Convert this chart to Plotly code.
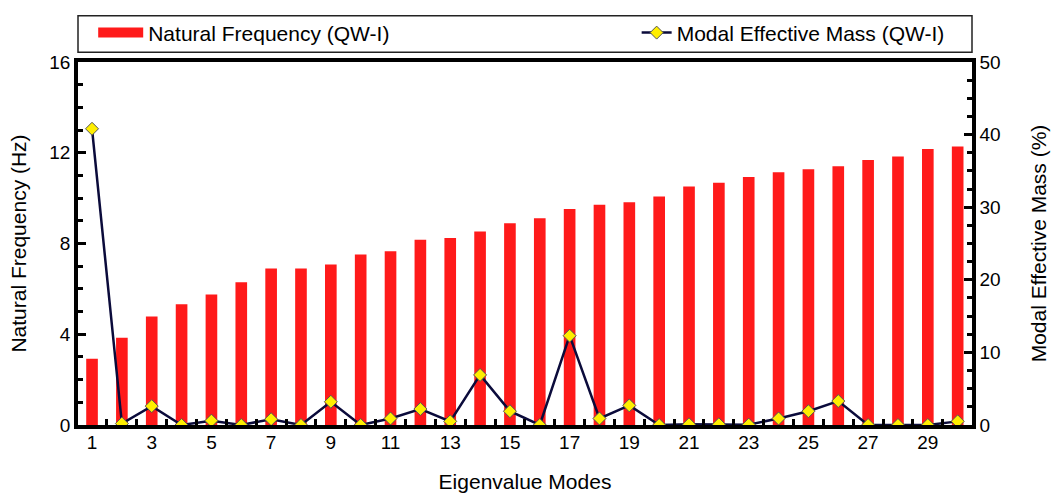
import plotly.graph_objects as go

modes = list(range(1, 31))
natural_freq = [2.92, 3.85, 4.78, 5.32, 5.75, 6.29, 6.90, 6.90, 7.07, 7.52,
                7.66, 8.17, 8.24, 8.53, 8.89, 9.11, 9.52, 9.71, 9.82, 10.07,
                10.51, 10.68, 10.93, 11.14, 11.27, 11.40, 11.68, 11.83, 12.16, 12.28]
modal_mass = [40.8, 0.2, 2.6, 0.0, 0.6, 0.0, 0.8, 0.0, 3.2, 0.0,
              0.9, 2.2, 0.5, 6.9, 1.9, 0.0, 12.3, 0.9, 2.7, 0.0,
              0.1, 0.1, 0.05, 0.9, 1.9, 3.3, 0.0, 0.0, 0.0, 0.5]
x_tick_vals = [1, 3, 5, 7, 9, 11, 13, 15, 17, 19, 21, 23, 25, 27, 29]
x_tick_text = [str(v) for v in x_tick_vals]

FONT = "Liberation Sans, Arial, sans-serif"

fig = go.Figure()
fig.add_trace(go.Bar(
    x=modes, y=natural_freq, name="Natural Frequency (QW-I)",
    marker=dict(color="#ff1a1a", line=dict(width=0)), width=0.39,
    showlegend=False, yaxis="y"))
# legend-only entry for the bars (wide swatch)
fig.add_trace(go.Scatter(
    x=[None], y=[None], mode="lines", name="Natural Frequency (QW-I)",
    line=dict(color="#ff1a1a", width=14), legend="legend", yaxis="y"))
fig.add_trace(go.Scatter(
    x=modes, y=modal_mass, name="Modal Effective Mass (QW-I)", mode="lines+markers",
    line=dict(color="#0b0b3b", width=2.5),
    marker=dict(symbol="diamond", size=10, color="#ffee00",
                line=dict(color="#555555", width=1)),
    yaxis="y2", legend="legend2"))

axis_line = dict(showline=True, linecolor="black", linewidth=3.5)

fig.update_layout(
    width=1053, height=493,
    margin=dict(l=78, r=81, t=57, b=68),
    plot_bgcolor="white", paper_bgcolor="white",
    font=dict(family=FONT, size=19, color="black"),
    bargap=0.6,
    xaxis=dict(
        range=[0.53, 30.48], tickmode="array", tickvals=x_tick_vals, ticktext=x_tick_text,
        ticks="", showgrid=False, zeroline=False, mirror=True, ticklabelstandoff=-3,
        minor=dict(tickmode="linear", tick0=0.5, dtick=1, ticks="inside",
                   ticklen=6, tickwidth=2.5, tickcolor="black", showgrid=False),
        title=dict(text="Eigenvalue Modes", font=dict(size=21), standoff=27),
        automargin=False, **axis_line),
    yaxis=dict(
        range=[0, 16], tickmode="linear", tick0=0, dtick=4,
        ticks="inside", ticklen=8, tickwidth=2.5, tickcolor="black",
        minor=dict(tickmode="linear", tick0=0, dtick=1, ticks="inside",
                   ticklen=5, tickwidth=2.5, tickcolor="black", showgrid=False),
        showgrid=False, zeroline=False,
        title=dict(text="Natural Frequency (Hz)", font=dict(size=21), standoff=18),
        automargin=False, **axis_line),
    yaxis2=dict(
        range=[0, 50], tickmode="linear", tick0=0, dtick=10, overlaying="y", side="right",
        ticks="inside", ticklen=8, tickwidth=2.5, tickcolor="black",
        minor=dict(tickmode="linear", tick0=0, dtick=2.5, ticks="inside",
                   ticklen=5, tickwidth=2.5, tickcolor="black", showgrid=False),
        showgrid=False, zeroline=False,
        title=dict(text="Modal Effective Mass (%)", font=dict(size=21), standoff=33),
        automargin=False, **axis_line),
    legend=dict(x=0.017, y=1.08, xanchor="left", yanchor="middle",
                bgcolor="rgba(0,0,0,0)", borderwidth=0, itemwidth=45,
                font=dict(size=21, family=FONT)),
    legend2=dict(x=0.975, y=1.08, xanchor="right", yanchor="middle",
                 bgcolor="rgba(0,0,0,0)", borderwidth=0,
                 font=dict(size=21, family=FONT)),
    shapes=[dict(type="rect", xref="paper", yref="paper",
                 x0=0, x1=1, y0=(425 - 47) / 368, y1=(425 - 10) / 368,
                 line=dict(color="#222222", width=1.5), fillcolor="rgba(0,0,0,0)")],
)

fig.write_html("out.html")
